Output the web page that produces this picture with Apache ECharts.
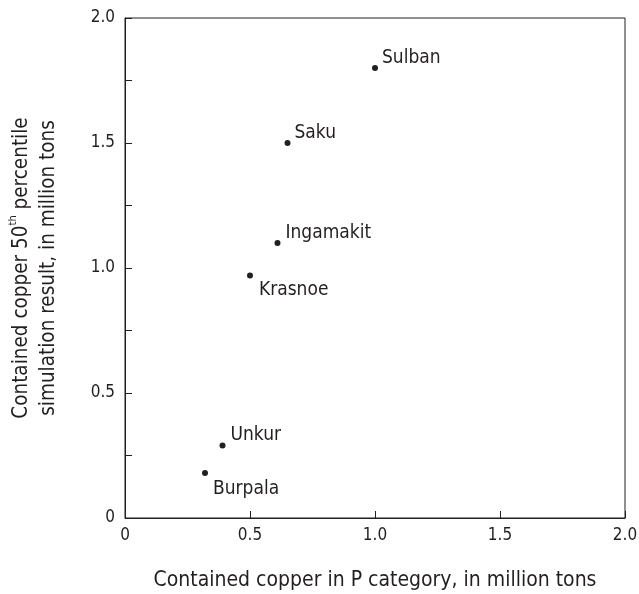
<!DOCTYPE html>
<html><head><meta charset="utf-8">
<script src="https://cdn.jsdelivr.net/npm/echarts@6/dist/echarts.min.js"></script>
<style>html,body{margin:0;padding:0;background:#fff}#c{width:639px;height:594px}</style>
</head><body><div id="c"></div>
<script>
const deposits = ['Sulban','Saku','Ingamakit','Krasnoe','Unkur','Burpala'];
const pCategory = [1.00, 0.65, 0.61, 0.50, 0.39, 0.32];
const simulated50 = [1.80, 1.50, 1.10, 0.97, 0.29, 0.18];
const xTicks = [0, 0.5, 1.0, 1.5, 2.0];
const yTicks = [0, 0.5, 1.0, 1.5, 2.0];

const FONT = '"DejaVu Sans Condensed","Liberation Sans Narrow",sans-serif';
const INK = '#231f20';
const labelPlace = {
  Sulban: {offset:[-1,-10]},
  Saku: {offset:[-1,-10]},
  Ingamakit: {offset:[0,-10]},
  Krasnoe: {offset:[1,15]},
  Unkur: {offset:[0,-10]},
  Burpala: {offset:[0,16]}
};
const fmt = v => { const m = Math.round(v*100)/100; if (m===0) return '0'; return yTicks.includes(m)||xTicks.includes(m) ? m.toFixed(1) : ''; };

const chart = echarts.init(document.getElementById('c'), null, {renderer:'canvas'});
chart.setOption({
  animation:false,
  grid:{left:125, top:18, right:14, bottom:76, show:true, borderColor:INK, borderWidth:1,
        containLabel:false, outerBoundsMode:'none'},
  xAxis:{
    type:'value', min:0, max:2, interval:0.5,
    axisLine:{show:true, lineStyle:{color:INK, width:1}},
    axisTick:{show:true, inside:true, length:7, lineStyle:{color:INK}},
    splitLine:{show:false},
    axisLabel:{formatter:fmt, color:INK, fontFamily:FONT, fontSize:17, margin:9},
    name:'Contained copper in P category, in million tons',
    nameLocation:'middle', nameGap:52,
    nameTextStyle:{color:INK, fontFamily:FONT, fontSize:21}
  },
  yAxis:{
    type:'value', min:0, max:2, interval:0.25,
    axisLine:{show:true, lineStyle:{color:INK, width:1}},
    axisTick:{show:true, inside:true, length:7, lineStyle:{color:INK}},
    splitLine:{show:false},
    axisLabel:{formatter:fmt, color:INK, fontFamily:FONT, fontSize:17, margin:10},
    name:'{a|Contained copper 50}{s|th}{a| percentile}\n{a|simulation result, in million tons}',
    nameLocation:'middle', nameGap:63, nameRotate:90,
    nameTextStyle:{color:INK, fontFamily:FONT, fontSize:20.5, lineHeight:27,
      rich:{a:{fontFamily:FONT, fontSize:20.5, color:INK, lineHeight:27},
            s:{fontFamily:FONT, fontSize:11, color:INK, verticalAlign:'top', lineHeight:27, padding:[0,0,10,0]}}}
  },
  series:[{
    type:'scatter', symbol:'circle', symbolSize:6,
    itemStyle:{color:INK, opacity:1},
    emphasis:{disabled:true},
    data: deposits.map((n,i)=>({name:n, value:[pCategory[i], simulated50[i]],
      label:{show:true, formatter:n, position:'right', distance:5, offset:labelPlace[n].offset,
        color:INK, opacity:1, fontFamily:FONT, fontSize:19}}))
  }]
});
</script></body></html>
